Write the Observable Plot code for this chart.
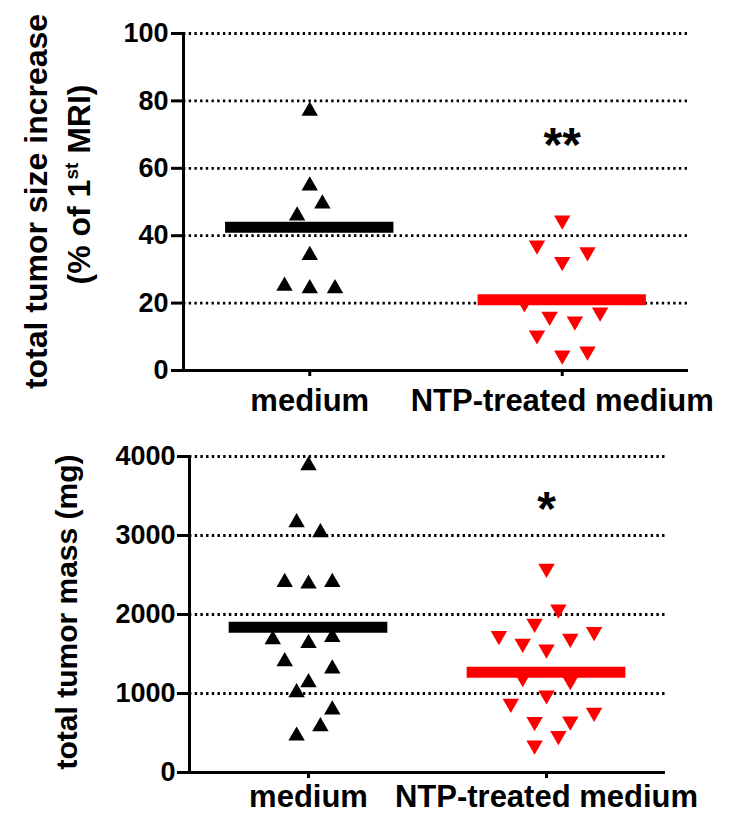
<!DOCTYPE html>
<html>
<head>
<meta charset="utf-8">
<script src="https://cdn.jsdelivr.net/npm/d3@7"></script>
<script src="https://cdn.jsdelivr.net/npm/@observablehq/plot@0.6"></script>
<style>
  html, body { margin: 0; padding: 0; background: white; }
  svg { display: block; }
</style>
</head>
<body>
<div id="chart"></div>
<script>
// ---- data ----
const groups = ["medium", "NTP-treated medium"];

// Panel A: total tumor size increase (% of 1st MRI)
const sizeMedium    = [77.6, 55.4, 50.1, 46.5, 34.8, 25.7, 24.9, 24.9];
const sizeMediumCol = [0, 0, 0.05, -0.05, 0, -0.1, 0, 0.1];
const sizeNTP       = [44.0, 36.6, 34.6, 31.7, 19.4, 16.7, 15.4, 14.0, 9.9, 5.1, 3.9];
const sizeNTPCol    = [0, -0.1, 0.1, 0, -0.15, 0.15, -0.05, 0.05, -0.1, 0.1, 0];
const sizeTicks     = [0, 20, 40, 60, 80, 100];
const sizeStar      = {label: "**", value: 70.3};

// Panel B: total tumor mass (mg)
const massMedium    = [3911, 3190, 3063, 2435, 2413, 2435, 1709, 1662, 1738, 1430, 1338, 1165, 1038, 819, 608, 489];
const massMediumCol = [0, -0.05, 0.05, -0.1, 0, 0.1, -0.15, 0, 0.1, -0.1, 0.1, 0, -0.05, 0.1, 0.05, -0.05];
const massNTP       = [2557, 2042, 1861, 1705, 1755, 1608, 1671, 1536, 1173, 1135, 954, 848, 734, 616, 624, 439, 321];
const massNTPCol    = [0, 0.05, -0.05, -0.2, 0.2, -0.1, 0.1, 0, -0.1, 0.1, 0, -0.15, 0.2, -0.05, 0.1, 0.05, -0.05];
const massTicks     = [0, 1000, 2000, 3000, 4000];
const massStar      = {label: "*", value: 3481};

const FONT = "'Liberation Sans', Arial, Helvetica, sans-serif";
const RED = "#ff0000";

function rows(values, cols, g) {
  return values.map((v, i) => ({g, pos: g + cols[i], value: v}));
}

function panel(o) {
  const med = rows(o.med, o.medCol, 0);
  const ntp = rows(o.ntp, o.ntpCol, 1);
  const means = [
    {g: 0, mean: d3.mean(o.med)},
    {g: 1, mean: d3.mean(o.ntp)}
  ];
  return Plot.plot({
    width: 747,
    height: o.height,
    marginLeft: o.marginLeft,
    marginRight: o.marginRight,
    marginTop: o.marginTop,
    marginBottom: o.marginBottom,
    style: {fontFamily: FONT, fontWeight: "bold", background: "white", color: "black"},
    x: {domain: [-0.5, 1.5], axis: null},
    y: {domain: o.yDomain, axis: null},
    marks: [
      Plot.gridY(o.ticks.filter(t => t > 0), {stroke: "black", strokeOpacity: 1, strokeWidth: 2.8, strokeDasharray: "2.4 3.3"}),
      Plot.axisY({ticks: o.ticks, tickFormat: d => String(d), tickSize: 12, tickPadding: o.tickPadY, fontSize: 27, strokeWidth: 3, label: null}),
      Plot.axisX({ticks: [0, 1], tickFormat: i => groups[i], tickSize: 6, tickPadding: o.tickPadX, fontSize: 31, strokeWidth: 3, label: null}),
      Plot.ruleX([-0.5], {stroke: "black", strokeWidth: 3}),
      Plot.ruleY([0], {stroke: "black", strokeWidth: 3}),
      Plot.dot(med, {x: "pos", y: "value", symbol: "triangle", r: 6.1, fill: "black", dy: 2}),
      Plot.dot(ntp, {x: "pos", y: "value", symbol: "triangle", r: 6.1, fill: RED, rotate: 180, dy: -2}),
      Plot.ruleY(means.filter(d => d.g === 0), {y: "mean", x1: d => d.g - 1/3, x2: d => d.g + 1/3, stroke: "black", strokeWidth: 11}),
      Plot.ruleY(means.filter(d => d.g === 1), {y: "mean", x1: d => d.g - 1/3, x2: d => d.g + 1/3, stroke: RED, strokeWidth: 11}),
      Plot.text([o.star], {x: () => 1, y: "value", text: "label", fontSize: 48, fontWeight: "bold", lineAnchor: "middle", dy: 12, fill: "black"})
    ]
  });
}

const topPanel = panel({
  height: 420, marginLeft: 183, marginRight: 59, marginTop: 33, marginBottom: 50,
  yDomain: [0, 100], ticks: sizeTicks, tickPadY: 3, tickPadX: 12,
  med: sizeMedium, medCol: sizeMediumCol, ntp: sizeNTP, ntpCol: sizeNTPCol, star: sizeStar
});
const bottomPanel = panel({
  height: 396, marginLeft: 189, marginRight: 82, marginTop: 36, marginBottom: 44,
  yDomain: [0, 4000], ticks: massTicks, tickPadY: 2, tickPadX: 6,
  med: massMedium, medCol: massMediumCol, ntp: massNTP, ntpCol: massNTPCol, star: massStar
});

// y-axis titles (real text, placed from the plot's own y scale)
(function () {
  const ys = topPanel.scale("y");
  const mid = (ys.apply(0) + ys.apply(100)) / 2;
  const g = d3.select(topPanel).append("g").attr("font-family", FONT).attr("font-weight", "bold").attr("fill", "black");
  g.append("text")
    .attr("transform", `translate(47,${mid}) rotate(-90)`)
    .attr("text-anchor", "middle").attr("font-size", 32)
    .text("total tumor size increase");
  const t2 = g.append("text")
    .attr("transform", `translate(90,${mid - 17}) rotate(-90)`)
    .attr("text-anchor", "middle").attr("font-size", 32);
  t2.append("tspan").text("(% of 1");
  t2.append("tspan").attr("font-size", 19).attr("dy", -12).text("st");
  t2.append("tspan").attr("dy", 12).text(" MRI)");
})();
(function () {
  const ys = bottomPanel.scale("y");
  const mid = (ys.apply(0) + ys.apply(4000)) / 2;
  d3.select(bottomPanel).append("text")
    .attr("font-family", FONT).attr("font-weight", "bold").attr("fill", "black")
    .attr("transform", `translate(77,${mid - 2}) rotate(-90)`)
    .attr("text-anchor", "middle").attr("font-size", 30)
    .text("total tumor mass (mg)");
})();

const chart = document.getElementById("chart");
chart.appendChild(topPanel);
chart.appendChild(bottomPanel);
</script>
</body>
</html>
